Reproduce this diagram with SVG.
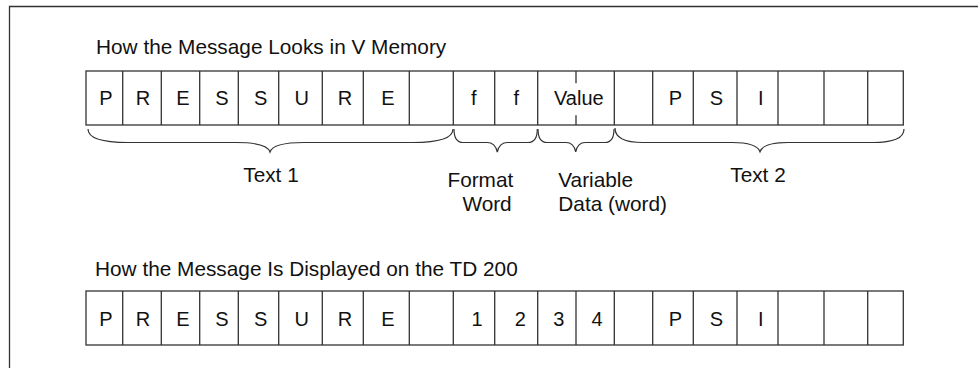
<svg xmlns="http://www.w3.org/2000/svg" width="978" height="368" viewBox="0 0 978 368">
<style>
.ln{fill:none;stroke:#333;stroke-width:1.3}
.br{fill:none;stroke:#333;stroke-width:1.2}
.t{font-family:"Liberation Sans",Arial,sans-serif;font-size:20.8px;fill:#111}
.c{font-family:"Liberation Sans",Arial,sans-serif;font-size:20px;fill:#111;text-anchor:middle}
.m{text-anchor:middle}
</style>
<rect width="978" height="368" fill="#fff"/>
<path class="ln" d="M9.5,368 V6.5 H978"/>
<g id="title1"><text class="t" x="96" y="54.3">How the Message Looks in V Memory</text></g>
<g id="memory-row">
<rect class="ln" x="86" y="71" width="817.3" height="54"/>
<path class="ln" d="M122.7,71V125M161.3,71V125M199.7,71V125M238.3,71V125M278.7,71V125M322.3,71V125M363.3,71V125M409.3,71V125M453.3,71V125M494.7,71V125M537.7,71V125M614.3,71V125M652.7,71V125M693.3,71V125M737,71V125M778,71V125M824,71V125M867.7,71V125M576,71V83.3M576,115.3V125"/>
<text class="c" x="106" y="105">P</text>
<text class="c" x="143" y="105">R</text>
<text class="c" x="183" y="105">E</text>
<text class="c" x="222" y="105">S</text>
<text class="c" x="260.7" y="105">S</text>
<text class="c" x="301.7" y="105">U</text>
<text class="c" x="345" y="105">R</text>
<text class="c" x="388" y="105">E</text>
<text class="c" x="473.7" y="105">f</text>
<text class="c" x="516.2" y="105">f</text>
<text class="c" x="578.8" y="105">Value</text>
<text class="c" x="675.5" y="105">P</text>
<text class="c" x="716.3" y="105">S</text>
<text class="c" x="760.8" y="105">I</text>
</g>
<g id="connectors">
<path class="br" d="M88,129 C88,138 100,142.5 128,142.5 L236,142.5 C256,142.5 268,146 270,152 C272,146 284,142.5 304,142.5 L413,142.5 C441,142.5 453,138 453,129"/>
<path class="br" d="M454,129 C454,137 456,142.5 463,142.5 L487,142.5 C493,142.5 496,146 497.3,152 C498.6,146 501.6,142.5 507.6,142.5 L528,142.5 C535,142.5 537.3,137 537.3,129"/>
<path class="br" d="M538,129 C538,137 540,142.5 547,142.5 L566,142.5 C572,142.5 574.5,146 575.7,152 C576.9,146 579.4,142.5 585.4,142.5 L605,142.5 C612,142.5 614,137 614,129"/>
<path class="br" d="M615,128 C615,137 624,142.5 643,142.5 L732,142.5 C750,142.5 758,146 760,151.7 C762,146 770,142.5 788,142.5 L873,142.5 C893,142.5 904,138 904,129"/>
</g>
<g id="labels">
<text class="t m" x="271" y="182.3">Text 1</text>
<text class="t" x="513.3" y="186.7" text-anchor="end">Format</text>
<text class="t" x="511.7" y="210.7" text-anchor="end">Word</text>
<text class="t" x="558.3" y="186.7">Variable</text>
<text class="t" x="558.3" y="211">Data (word)</text>
<text class="t m" x="758" y="181.7">Text 2</text>
</g>
<g id="title2"><text class="t" x="95" y="276">How the Message Is Displayed on the TD 200</text></g>
<g id="display-row">
<rect class="ln" x="86" y="291" width="817.3" height="54"/>
<path class="ln" d="M122.7,291V345M161.3,291V345M199.7,291V345M238.3,291V345M278.7,291V345M322.3,291V345M363.3,291V345M409.3,291V345M453.3,291V345M494.7,291V345M537.7,291V345M576,291V345M614.3,291V345M652.7,291V345M693.3,291V345M737,291V345M778,291V345M824,291V345M867.7,291V345"/>
<text class="c" x="106" y="325.5">P</text>
<text class="c" x="143" y="325.5">R</text>
<text class="c" x="183" y="325.5">E</text>
<text class="c" x="222" y="325.5">S</text>
<text class="c" x="260.7" y="325.5">S</text>
<text class="c" x="301.7" y="325.5">U</text>
<text class="c" x="345" y="325.5">R</text>
<text class="c" x="388" y="325.5">E</text>
<text class="c" x="477" y="325.5">1</text>
<text class="c" x="520.3" y="325.5">2</text>
<text class="c" x="558.7" y="325.5">3</text>
<text class="c" x="597" y="325.5">4</text>
<text class="c" x="675.5" y="325.5">P</text>
<text class="c" x="716.3" y="325.5">S</text>
<text class="c" x="760.8" y="325.5">I</text>
</g>
</svg>
